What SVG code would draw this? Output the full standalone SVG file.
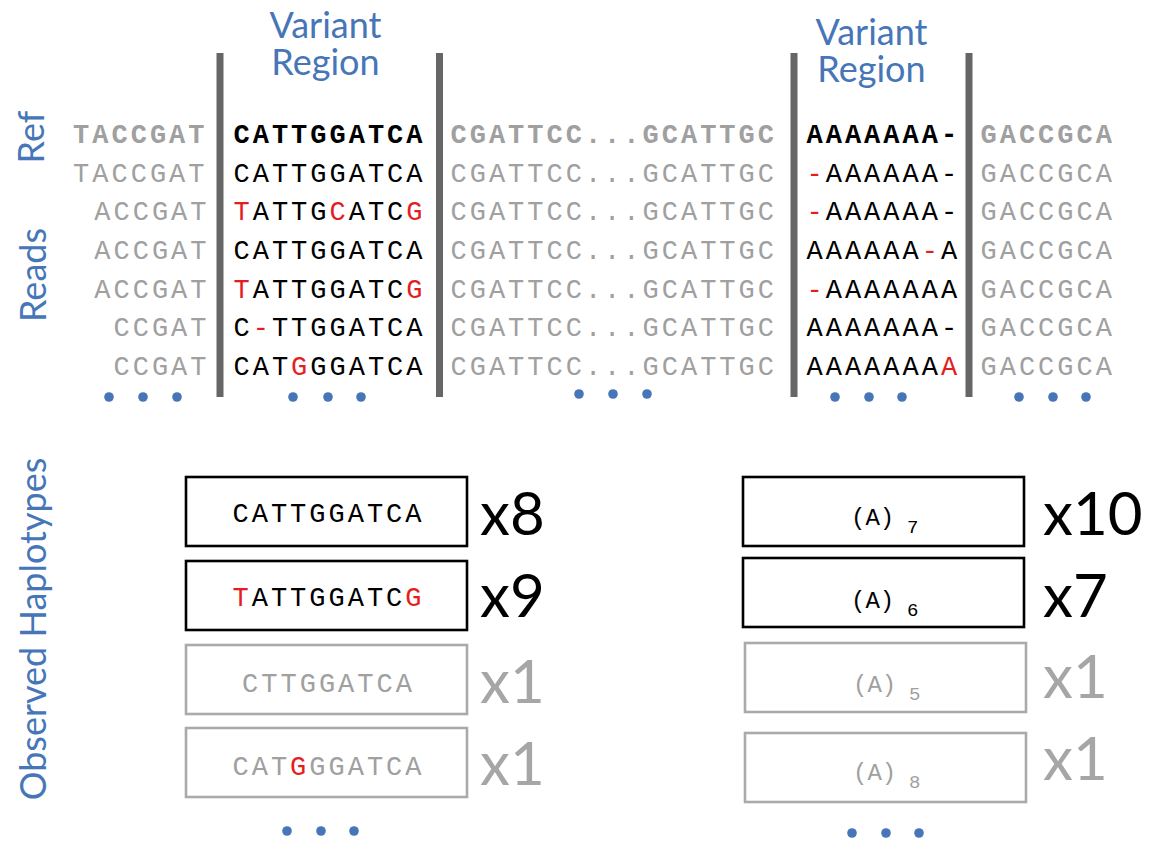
<svg xmlns="http://www.w3.org/2000/svg" width="1152" height="843" viewBox="0 0 1152 843">
  <style>
    .lbl { font-family: Lato, "Open Sans", sans-serif; font-size: 36px; fill: #4676b8; }
    .seq { font-family: "Liberation Mono", "Courier New", monospace; font-size: 27px; letter-spacing: 3px; }
    .ref { font-weight: bold; }
    .flank { fill: #a0a0a0; }
    .var { fill: #000; }
    .mut { fill: #e41e1e; }
    .bar { fill: #666; }
    .dot { fill: #4676b8; }
    .box { fill: #fff; stroke-width: 2.6; }
    .box.major { stroke: #000; }
    .box.minor { stroke: #aaa; }
    .cnt { font-family: Lato, "Open Sans", sans-serif; font-size: 60px; }
    .cnt.major { fill: #000; }
    .cnt.minor { fill: #a6a6a6; }
    .hp { font-family: "Liberation Mono", "Courier New", monospace; font-size: 24px; }
    .sub { font-size: 19px; }
  </style>
  <rect width="1152" height="843" fill="#fff"/>

  <!-- side labels -->
  <g id="side-labels" class="lbl" text-anchor="middle">
    <text transform="translate(44,137) rotate(-90)">Ref</text>
    <text transform="translate(46,275) rotate(-90)">Reads</text>
    <text transform="translate(46,629) rotate(-90)">Observed Haplotypes</text>
  </g>

  <!-- region headers, two lines each -->
  <g id="region-left-label" class="lbl" text-anchor="middle">
    <text x="325.5" y="38">Variant<tspan x="325.5" dy="37">Region</tspan></text>
  </g>
  <g id="region-right-label" class="lbl" text-anchor="middle">
    <text x="871.5" y="45">Variant<tspan x="871.5" dy="37">Region</tspan></text>
  </g>

  <!-- region boundaries -->
  <g id="boundaries">
    <rect class="bar" x="216.5" y="53" width="7" height="344"/>
    <rect class="bar" x="436" y="53" width="7" height="344"/>
    <rect class="bar" x="790.5" y="53" width="7" height="344"/>
    <rect class="bar" x="965.5" y="53" width="7" height="344"/>
  </g>

  <!-- alignment rows -->
  <g id="alignment" class="seq">
    <!-- reference -->
    <g id="row-ref" class="ref">
      <text class="flank" x="73.1" y="143">TACCGAT</text>
      <text class="var" x="233.5" y="143">CATTGGATCA</text>
      <text class="flank" x="450.5" y="143">CGATTCC...GCATTGC</text>
      <text class="var" x="806.5" y="143">AAAAAAA-</text>
      <text class="flank" x="980.5" y="143">GACCGCA</text>
    </g>
    <g id="read-1">
      <text class="flank" x="73.1" y="181.7">TACCGAT</text>
      <text class="var" x="233.5" y="181.7">CATTGGATCA</text>
      <text class="flank" x="450.5" y="181.7">CGATTCC...GCATTGC</text>
      <text class="var" x="806.5" y="181.7"><tspan class="mut">-</tspan>AAAAAA-</text>
      <text class="flank" x="980.5" y="181.7">GACCGCA</text>
    </g>
    <g id="read-2">
      <text class="flank" x="94.3" y="220.3">ACCGAT</text>
      <text class="var" x="233.5" y="220.3"><tspan class="mut">T</tspan>ATTG<tspan class="mut">C</tspan>ATC<tspan class="mut">G</tspan></text>
      <text class="flank" x="450.5" y="220.3">CGATTCC...GCATTGC</text>
      <text class="var" x="806.5" y="220.3"><tspan class="mut">-</tspan>AAAAAA-</text>
      <text class="flank" x="980.5" y="220.3">GACCGCA</text>
    </g>
    <g id="read-3">
      <text class="flank" x="94.3" y="259">ACCGAT</text>
      <text class="var" x="233.5" y="259">CATTGGATCA</text>
      <text class="flank" x="450.5" y="259">CGATTCC...GCATTGC</text>
      <text class="var" x="806.5" y="259">AAAAAA<tspan class="mut">-</tspan>A</text>
      <text class="flank" x="980.5" y="259">GACCGCA</text>
    </g>
    <g id="read-4">
      <text class="flank" x="94.3" y="297.7">ACCGAT</text>
      <text class="var" x="233.5" y="297.7"><tspan class="mut">T</tspan>ATTGGATC<tspan class="mut">G</tspan></text>
      <text class="flank" x="450.5" y="297.7">CGATTCC...GCATTGC</text>
      <text class="var" x="806.5" y="297.7"><tspan class="mut">-</tspan>AAAAAAA</text>
      <text class="flank" x="980.5" y="297.7">GACCGCA</text>
    </g>
    <g id="read-5">
      <text class="flank" x="113.5" y="336.3">CCGAT</text>
      <text class="var" x="233.5" y="336.3">C<tspan class="mut">-</tspan>TTGGATCA</text>
      <text class="flank" x="450.5" y="336.3">CGATTCC...GCATTGC</text>
      <text class="var" x="806.5" y="336.3">AAAAAAA-</text>
      <text class="flank" x="980.5" y="336.3">GACCGCA</text>
    </g>
    <g id="read-6">
      <text class="flank" x="113.5" y="375">CCGAT</text>
      <text class="var" x="233.5" y="375">CAT<tspan class="mut">G</tspan>GGATCA</text>
      <text class="flank" x="450.5" y="375">CGATTCC...GCATTGC</text>
      <text class="var" x="806.5" y="375">AAAAAAA<tspan class="mut">A</tspan></text>
      <text class="flank" x="980.5" y="375">GACCGCA</text>
    </g>
  </g>

  <!-- continuation dots -->
  <g id="ellipses">
    <circle class="dot" cx="109" cy="397" r="4.8"/>
    <circle class="dot" cx="143" cy="397" r="4.8"/>
    <circle class="dot" cx="177" cy="397" r="4.8"/>
    <circle class="dot" cx="293" cy="397" r="4.8"/>
    <circle class="dot" cx="328" cy="397" r="4.8"/>
    <circle class="dot" cx="361" cy="397" r="4.8"/>
    <circle class="dot" cx="579" cy="394" r="4.8"/>
    <circle class="dot" cx="613" cy="394" r="4.8"/>
    <circle class="dot" cx="647" cy="394" r="4.8"/>
    <circle class="dot" cx="835" cy="397" r="4.8"/>
    <circle class="dot" cx="869" cy="397" r="4.8"/>
    <circle class="dot" cx="902" cy="397" r="4.8"/>
    <circle class="dot" cx="1019" cy="397" r="4.8"/>
    <circle class="dot" cx="1053" cy="397" r="4.8"/>
    <circle class="dot" cx="1086" cy="397" r="4.8"/>
    <circle class="dot" cx="287" cy="831" r="4.8"/>
    <circle class="dot" cx="321" cy="831" r="4.8"/>
    <circle class="dot" cx="354" cy="831" r="4.8"/>
    <circle class="dot" cx="852" cy="833" r="4.8"/>
    <circle class="dot" cx="886" cy="833" r="4.8"/>
    <circle class="dot" cx="919" cy="833" r="4.8"/>
  </g>

  <!-- haplotypes of the left region -->
  <g id="hap-left-1">
    <rect class="box major" x="186" y="477" width="281" height="69"/>
    <text class="seq var" x="328.5" y="522" text-anchor="middle">CATTGGATCA</text>
    <text class="cnt major" x="480" y="535">x8</text>
  </g>
  <g id="hap-left-2">
    <rect class="box major" x="186" y="561" width="281" height="69"/>
    <text class="seq var" x="328.5" y="606" text-anchor="middle"><tspan class="mut">T</tspan>ATTGGATC<tspan class="mut">G</tspan></text>
    <text class="cnt major" x="480" y="617">x9</text>
  </g>
  <g id="hap-left-3">
    <rect class="box minor" x="186" y="645" width="281" height="69"/>
    <text class="seq flank" x="328.5" y="692" text-anchor="middle">CTTGGATCA</text>
    <text class="cnt minor" x="480" y="703">x1</text>
  </g>
  <g id="hap-left-4">
    <rect class="box minor" x="186" y="728" width="281" height="69"/>
    <text class="seq flank" x="328.5" y="775" text-anchor="middle">CAT<tspan class="mut">G</tspan>GGATCA</text>
    <text class="cnt minor" x="480" y="785">x1</text>
  </g>

  <!-- haplotypes of the right region -->
  <g id="hap-right-1">
    <rect class="box major" x="743" y="477" width="281" height="69"/>
    <text class="hp var" x="851" y="525">(A)<tspan class="sub" x="907" y="533">7</tspan></text>
    <text class="cnt major" x="1043" y="535">x10</text>
  </g>
  <g id="hap-right-2">
    <rect class="box major" x="743" y="558" width="281" height="69"/>
    <text class="hp var" x="851" y="608">(A)<tspan class="sub" x="907" y="616">6</tspan></text>
    <text class="cnt major" x="1043" y="617">x7</text>
  </g>
  <g id="hap-right-3">
    <rect class="box minor" x="745" y="643" width="281" height="69"/>
    <text class="hp flank" x="853" y="692">(A)<tspan class="sub" x="909" y="700">5</tspan></text>
    <text class="cnt minor" x="1043" y="698">x1</text>
  </g>
  <g id="hap-right-4">
    <rect class="box minor" x="745" y="733" width="281" height="69"/>
    <text class="hp flank" x="853" y="780">(A)<tspan class="sub" x="909" y="788">8</tspan></text>
    <text class="cnt minor" x="1043" y="780">x1</text>
  </g>
</svg>
